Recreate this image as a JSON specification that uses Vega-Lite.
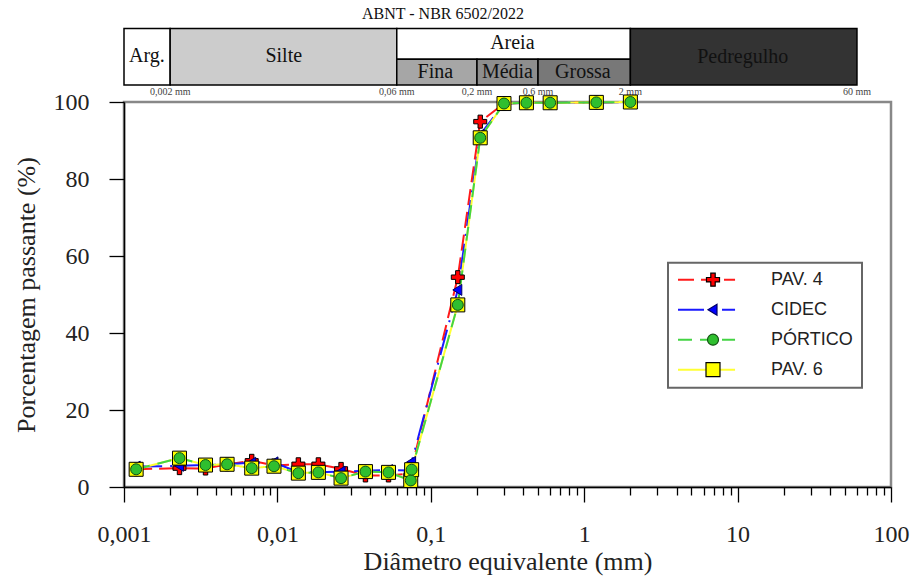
{
  "$schema": "https://vega.github.io/schema/vega-lite/v6.json",
  "width": 767,
  "height": 385,
  "autosize": {"type": "none"},
  "padding": {"left": 124, "top": 102, "right": 22, "bottom": 95},
  "background": "white",
  "config": {
    "view": {"stroke": "#888888", "strokeWidth": 2.5},
    "font": "Liberation Serif",
    "legend": {"strokeWidth": 2}
  },
  "datasets": {
    "pts": [
      {"serie": "PAV. 4", "d": 0.0012, "p": 4.6},
      {"serie": "PAV. 4", "d": 0.0023, "p": 4.9},
      {"serie": "PAV. 4", "d": 0.0034, "p": 4.8},
      {"serie": "PAV. 4", "d": 0.0047, "p": 5.9},
      {"serie": "PAV. 4", "d": 0.0068, "p": 6.8},
      {"serie": "PAV. 4", "d": 0.0095, "p": 5.6},
      {"serie": "PAV. 4", "d": 0.0137, "p": 5.9},
      {"serie": "PAV. 4", "d": 0.0185, "p": 5.9},
      {"serie": "PAV. 4", "d": 0.026, "p": 4.7},
      {"serie": "PAV. 4", "d": 0.0375, "p": 3.0},
      {"serie": "PAV. 4", "d": 0.053, "p": 3.0},
      {"serie": "PAV. 4", "d": 0.074, "p": 3.5},
      {"serie": "PAV. 4", "d": 0.075, "p": 4.8},
      {"serie": "PAV. 4", "d": 0.15, "p": 54.5},
      {"serie": "PAV. 4", "d": 0.21, "p": 94.9},
      {"serie": "PAV. 4", "d": 0.3, "p": 99.6},
      {"serie": "PAV. 4", "d": 0.42, "p": 99.8},
      {"serie": "PAV. 4", "d": 0.6, "p": 99.8},
      {"serie": "PAV. 4", "d": 1.2, "p": 99.9},
      {"serie": "PAV. 4", "d": 2.0, "p": 100},
      {"serie": "CIDEC", "d": 0.0012, "p": 5.3},
      {"serie": "CIDEC", "d": 0.0023, "p": 5.5},
      {"serie": "CIDEC", "d": 0.0034, "p": 5.7},
      {"serie": "CIDEC", "d": 0.0047, "p": 5.9},
      {"serie": "CIDEC", "d": 0.0068, "p": 6.3},
      {"serie": "CIDEC", "d": 0.0095, "p": 6.4},
      {"serie": "CIDEC", "d": 0.0137, "p": 3.8},
      {"serie": "CIDEC", "d": 0.0185, "p": 3.8},
      {"serie": "CIDEC", "d": 0.026, "p": 4.0},
      {"serie": "CIDEC", "d": 0.0375, "p": 4.2},
      {"serie": "CIDEC", "d": 0.053, "p": 4.4},
      {"serie": "CIDEC", "d": 0.074, "p": 4.3},
      {"serie": "CIDEC", "d": 0.075, "p": 6.5},
      {"serie": "CIDEC", "d": 0.15, "p": 51.2},
      {"serie": "CIDEC", "d": 0.21, "p": 91.5},
      {"serie": "CIDEC", "d": 0.3, "p": 99.6},
      {"serie": "CIDEC", "d": 0.42, "p": 99.8},
      {"serie": "CIDEC", "d": 0.6, "p": 99.8},
      {"serie": "CIDEC", "d": 1.2, "p": 99.9},
      {"serie": "CIDEC", "d": 2.0, "p": 100},
      {"serie": "PAV. 6", "d": 0.0012, "p": 4.6},
      {"serie": "PAV. 6", "d": 0.0023, "p": 7.5},
      {"serie": "PAV. 6", "d": 0.0034, "p": 5.7},
      {"serie": "PAV. 6", "d": 0.0047, "p": 5.9},
      {"serie": "PAV. 6", "d": 0.0068, "p": 4.9},
      {"serie": "PAV. 6", "d": 0.0095, "p": 5.4},
      {"serie": "PAV. 6", "d": 0.0137, "p": 3.6},
      {"serie": "PAV. 6", "d": 0.0185, "p": 3.8},
      {"serie": "PAV. 6", "d": 0.026, "p": 2.3},
      {"serie": "PAV. 6", "d": 0.0375, "p": 4.0},
      {"serie": "PAV. 6", "d": 0.053, "p": 3.8},
      {"serie": "PAV. 6", "d": 0.074, "p": 1.7},
      {"serie": "PAV. 6", "d": 0.075, "p": 4.5},
      {"serie": "PAV. 6", "d": 0.15, "p": 47.3},
      {"serie": "PAV. 6", "d": 0.21, "p": 90.7},
      {"serie": "PAV. 6", "d": 0.3, "p": 99.6},
      {"serie": "PAV. 6", "d": 0.42, "p": 99.8},
      {"serie": "PAV. 6", "d": 0.6, "p": 99.8},
      {"serie": "PAV. 6", "d": 1.2, "p": 99.9},
      {"serie": "PAV. 6", "d": 2.0, "p": 100},
      {"serie": "PÓRTICO", "d": 0.0012, "p": 4.6},
      {"serie": "PÓRTICO", "d": 0.0023, "p": 7.5},
      {"serie": "PÓRTICO", "d": 0.0034, "p": 5.7},
      {"serie": "PÓRTICO", "d": 0.0047, "p": 5.9},
      {"serie": "PÓRTICO", "d": 0.0068, "p": 4.9},
      {"serie": "PÓRTICO", "d": 0.0095, "p": 5.4},
      {"serie": "PÓRTICO", "d": 0.0137, "p": 3.6},
      {"serie": "PÓRTICO", "d": 0.0185, "p": 3.8},
      {"serie": "PÓRTICO", "d": 0.026, "p": 2.3},
      {"serie": "PÓRTICO", "d": 0.0375, "p": 4.0},
      {"serie": "PÓRTICO", "d": 0.053, "p": 3.8},
      {"serie": "PÓRTICO", "d": 0.074, "p": 1.7},
      {"serie": "PÓRTICO", "d": 0.075, "p": 4.5},
      {"serie": "PÓRTICO", "d": 0.15, "p": 47.3},
      {"serie": "PÓRTICO", "d": 0.21, "p": 90.7},
      {"serie": "PÓRTICO", "d": 0.3, "p": 99.6},
      {"serie": "PÓRTICO", "d": 0.42, "p": 99.8},
      {"serie": "PÓRTICO", "d": 0.6, "p": 99.8},
      {"serie": "PÓRTICO", "d": 1.2, "p": 99.9},
      {"serie": "PÓRTICO", "d": 2.0, "p": 100}
    ],
    "faixas": [
      {"nome": "Arg.", "d0": 0.001, "d1": 0.002, "v0": 104.4, "v1": 119.1},
      {"nome": "Silte", "d0": 0.002, "d1": 0.06, "v0": 104.4, "v1": 119.1},
      {"nome": "Areia", "d0": 0.06, "d1": 2, "v0": 111.1, "v1": 119.1},
      {"nome": "Fina", "d0": 0.06, "d1": 0.2, "v0": 104.4, "v1": 111.1},
      {"nome": "Média", "d0": 0.2, "d1": 0.5, "v0": 104.4, "v1": 111.1},
      {"nome": "Grossa", "d0": 0.5, "d1": 2, "v0": 104.4, "v1": 111.1},
      {"nome": "Pedregulho", "d0": 2, "d1": 60, "v0": 104.4, "v1": 119.1}
    ],
    "rotulos": [
      {"nome": "Arg.", "xm": 0.00141, "ym": 111.9},
      {"nome": "Silte", "xm": 0.011, "ym": 111.9},
      {"nome": "Areia", "xm": 0.34, "ym": 115.3},
      {"nome": "Fina", "xm": 0.107, "ym": 107.8},
      {"nome": "Média", "xm": 0.316, "ym": 107.8},
      {"nome": "Grossa", "xm": 0.98, "ym": 107.8},
      {"nome": "Pedregulho", "xm": 10.8, "ym": 111.8}
    ],
    "limites": [
      {"txt": "0,002 mm", "d": 0.002, "y": 102.6},
      {"txt": "0,06 mm", "d": 0.06, "y": 102.6},
      {"txt": "0,2 mm", "d": 0.2, "y": 102.6},
      {"txt": "0,6 mm", "d": 0.5, "y": 102.6},
      {"txt": "2 mm", "d": 2, "y": 102.6},
      {"txt": "60 mm", "d": 60, "y": 102.6}
    ],
    "titulo": [
      {"txt": "ABNT - NBR 6502/2022", "d": 0.12, "y": 122.9}
    ]
  },
  "layer": [
    {
      "data": {"name": "faixas"},
      "mark": {"type": "rect", "stroke": "#000000", "strokeWidth": 1.5},
      "encoding": {
        "x": {"field": "d0", "type": "quantitative", "scale": {"type": "log", "domain": [0.001, 100], "nice": false}},
        "x2": {"field": "d1"},
        "y": {"field": "v0", "type": "quantitative", "scale": {"domain": [0, 100], "nice": false, "zero": false}},
        "y2": {"field": "v1"},
        "color": {
          "field": "nome", "type": "nominal", "legend": null,
          "scale": {
            "domain": ["Arg.", "Silte", "Areia", "Fina", "Média", "Grossa", "Pedregulho"],
            "range": ["#ffffff", "#cccccc", "#ffffff", "#a6a6a6", "#8e8e8e", "#787878", "#333333"]
          }
        }
      }
    },
    {
      "data": {"name": "rotulos"},
      "mark": {"type": "text", "fontSize": 20, "color": "#111111", "align": "center", "baseline": "middle", "font": "Liberation Serif"},
      "encoding": {
        "x": {"field": "xm", "type": "quantitative", "scale": {"type": "log", "domain": [0.001, 100], "nice": false}},
        "y": {"field": "ym", "type": "quantitative", "scale": {"domain": [0, 100], "nice": false, "zero": false}},
        "text": {"field": "nome"}
      }
    },
    {
      "data": {"name": "limites"},
      "mark": {"type": "text", "fontSize": 10, "color": "#444444", "align": "center", "baseline": "middle", "font": "Liberation Serif"},
      "encoding": {
        "x": {"field": "d", "type": "quantitative", "scale": {"type": "log", "domain": [0.001, 100], "nice": false}},
        "y": {"field": "y", "type": "quantitative", "scale": {"domain": [0, 100], "nice": false, "zero": false}},
        "text": {"field": "txt"}
      }
    },
    {
      "data": {"name": "titulo"},
      "mark": {"type": "text", "fontSize": 16, "color": "#111111", "align": "center", "baseline": "middle", "font": "Liberation Serif"},
      "encoding": {
        "x": {"field": "d", "type": "quantitative", "scale": {"type": "log", "domain": [0.001, 100], "nice": false}},
        "y": {"field": "y", "type": "quantitative", "scale": {"domain": [0, 100], "nice": false, "zero": false}},
        "text": {"field": "txt"}
      }
    },
    {
      "data": {"name": "pts"},
      "mark": {"type": "line", "strokeWidth": 2},
      "encoding": {
        "x": {"field": "d", "type": "quantitative", "scale": {"type": "log", "domain": [0.001, 100], "nice": false}},
        "y": {"field": "p", "type": "quantitative", "scale": {"domain": [0, 100], "nice": false, "zero": false}},
        "stroke": {
          "field": "serie", "type": "nominal",
          "scale": {"domain": ["PAV. 4", "CIDEC", "PÓRTICO", "PAV. 6"], "range": ["#ff1a1a", "#1a1aff", "#44d444", "#ffff33"]},
          "legend": {
            "orient": "none", "legendX": 544, "legendY": 160.7, "direction": "vertical", "title": null,
            "symbolType": "M-1,0H0.63", "symbolSize": 4900, "symbolStrokeWidth": 2,
            "clipHeight": 16, "rowPadding": 12, "padding": 9, "labelOffset": 22,
            "labelFont": "Liberation Sans", "labelFontSize": 18, "labelOpacity": 0, "zindex": 1
          }
        },
        "strokeDash": {
          "field": "serie", "type": "nominal",
          "scale": {"domain": ["PAV. 4", "CIDEC", "PÓRTICO", "PAV. 6"], "range": [[16, 7], [26, 8, 2, 8], [14, 8], [1, 0]]},
          "legend": {
            "orient": "none", "legendX": 544, "legendY": 160.7, "direction": "vertical", "title": null,
            "symbolType": "M-1,0H0.63", "symbolSize": 4900, "symbolStrokeWidth": 2,
            "clipHeight": 16, "rowPadding": 12, "padding": 9, "labelOffset": 22,
            "labelFont": "Liberation Sans", "labelFontSize": 18, "labelOpacity": 0, "zindex": 1
          }
        }
      }
    },
    {
      "data": {"name": "pts"},
      "mark": {"type": "point", "filled": true, "opacity": 1, "size": 4900},
      "encoding": {
        "x": {
          "field": "d", "type": "quantitative",
          "scale": {"type": "log", "domain": [0.001, 100], "nice": false},
          "axis": {
            "title": "Diâmetro equivalente (mm)",
            "values": [0.001, 0.002, 0.003, 0.004, 0.005, 0.006, 0.007, 0.008, 0.009, 0.01, 0.02, 0.03, 0.04, 0.05, 0.06, 0.07, 0.08, 0.09, 0.1, 0.2, 0.3, 0.4, 0.5, 0.6, 0.7, 0.8, 0.9, 1, 2, 3, 4, 5, 6, 7, 8, 9, 10, 20, 30, 40, 50, 60, 70, 80, 90, 100],
            "labelExpr": "indexof([0.001, 0.01, 0.1, 1, 10, 100], datum.value) >= 0 ? replace(toString(datum.value), '.', ',') : ''",
            "tickSize": {"condition": {"test": "indexof([0.001, 0.01, 0.1, 1, 10, 100], datum.value) >= 0", "value": 15}, "value": 8},
            "labelFont": "Liberation Serif", "labelFontSize": 24, "labelColor": "#222222", "labelPadding": 20,
            "labelFlush": false, "labelOverlap": false, "labelBound": false,
            "titleFont": "Liberation Serif", "titleFontSize": 26, "titleFontWeight": "normal", "titleColor": "#222222", "titlePadding": 2,
            "domainColor": "#000000", "domainWidth": 1.5, "tickColor": "#000000", "tickWidth": 1.3, "grid": false
          }
        },
        "y": {
          "field": "p", "type": "quantitative",
          "scale": {"domain": [0, 100], "nice": false, "zero": false},
          "axis": {
            "title": "Porcentagem passante (%)",
            "values": [0, 10, 20, 30, 40, 50, 60, 70, 80, 90, 100],
            "labelExpr": "datum.value % 20 == 0 ? datum.label : ''",
            "tickSize": {"condition": {"test": "datum.value % 20 == 0", "value": 15}, "value": 8},
            "labelFont": "Liberation Serif", "labelFontSize": 24, "labelColor": "#222222", "labelPadding": 20,
            "labelFlush": false, "labelOverlap": false, "labelBound": false,
            "titleFont": "Liberation Serif", "titleFontSize": 26, "titleFontWeight": "normal", "titleColor": "#222222", "titlePadding": 14,
            "domainColor": "#000000", "domainWidth": 1.5, "tickColor": "#000000", "tickWidth": 1.3, "grid": false
          }
        },
        "fill": {
          "field": "serie", "type": "nominal",
          "scale": {"domain": ["PAV. 4", "CIDEC", "PÓRTICO", "PAV. 6"], "range": ["#ff0000", "#0000ff", "#2fbf2f", "#ffff00"]},
          "legend": {
            "orient": "none", "legendX": 544, "legendY": 160.7, "direction": "vertical", "title": null,
            "symbolSize": 4900, "symbolStrokeWidth": 1.2, "symbolOpacity": 1,
            "clipHeight": 16, "rowPadding": 12, "padding": 9, "labelOffset": 22,
            "labelFont": "Liberation Sans", "labelFontSize": 18, "labelColor": "#222222",
            "strokeColor": "#666666", "zindex": 2
          }
        },
        "shape": {
          "field": "serie", "type": "nominal",
          "scale": {
            "domain": ["PAV. 4", "CIDEC", "PÓRTICO", "PAV. 6"],
            "range": [
              "M-0.063,-0.186H0.063V-0.063H0.186V0.063H0.063V0.186H-0.063V0.063H-0.186V-0.063H-0.063Z",
              "M-0.143,0L0.114,-0.157L0.114,0.157Z",
              "M-0.157,0A0.157,0.157,0,1,1,0.157,0A0.157,0.157,0,1,1,-0.157,0Z",
              "M-0.2,-0.2H0.2V0.2H-0.2Z"
            ]
          },
          "legend": {
            "orient": "none", "legendX": 544, "legendY": 160.7, "direction": "vertical", "title": null,
            "symbolSize": 4900, "symbolStrokeWidth": 1.2, "symbolOpacity": 1,
            "clipHeight": 16, "rowPadding": 12, "padding": 9, "labelOffset": 22,
            "labelFont": "Liberation Sans", "labelFontSize": 18, "labelColor": "#222222",
            "strokeColor": "#666666", "zindex": 2
          }
        },
        "stroke": {
          "field": "serie", "type": "nominal",
          "scale": {"domain": ["PAV. 4", "CIDEC", "PÓRTICO", "PAV. 6"], "range": ["#000000", "#000066", "#145214", "#000000"]},
          "legend": {
            "orient": "none", "legendX": 544, "legendY": 160.7, "direction": "vertical", "title": null,
            "symbolSize": 4900, "symbolStrokeWidth": 1.2, "symbolOpacity": 1,
            "clipHeight": 16, "rowPadding": 12, "padding": 9, "labelOffset": 22,
            "labelFont": "Liberation Sans", "labelFontSize": 18, "labelColor": "#222222",
            "strokeColor": "#666666", "zindex": 2
          }
        },
        "strokeWidth": {
          "field": "serie", "type": "nominal", "legend": null,
          "scale": {"domain": ["PAV. 4", "CIDEC", "PÓRTICO", "PAV. 6"], "range": [1, 1, 1, 2.2]}
        }
      }
    }
  ],
  "resolve": {
    "scale": {"stroke": "independent"},
    "legend": {"stroke": "independent", "fill": "independent", "shape": "independent", "strokeDash": "independent"}
  }
}
